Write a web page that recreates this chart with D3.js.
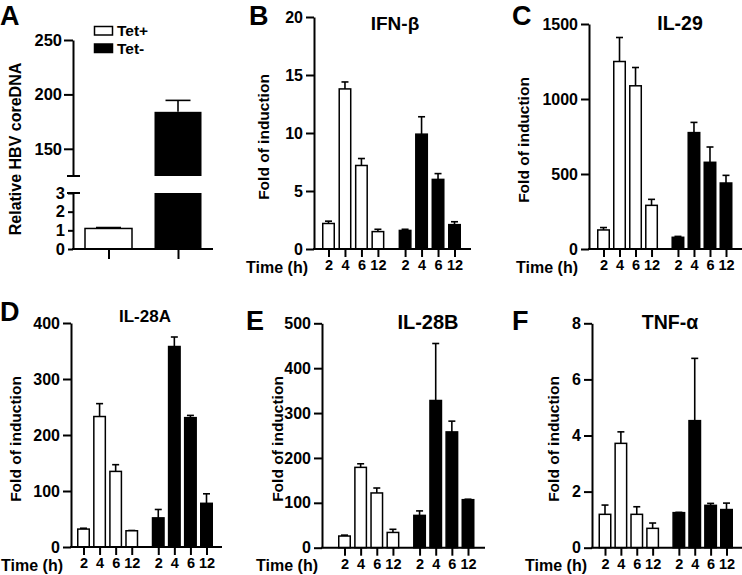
<!DOCTYPE html>
<html><head><meta charset="utf-8">
<script src="https://cdn.jsdelivr.net/npm/d3@7"></script>
<style>
html,body{margin:0;padding:0;background:#fff;}
svg{display:block;font-family:"Liberation Sans",Arial,sans-serif;font-weight:bold;}
</style></head>
<body>
<svg id="chart" width="742" height="575"></svg>
<script>
// ---------- DATA ----------
const groups = ["Tet+", "Tet-"];
const timeLabels = ["2", "4", "6", "12", "2", "4", "6", "12"];

const hbvValues = [1.1, 184];
const hbvErrors = [0.05, 10.5];
const hbvUpperTicks = [150, 200, 250];
const hbvLowerTicks = [0, 1, 2, 3];

const ifnbTetPlus = [2.2, 13.8, 7.2, 1.5];
const ifnbTetPlusErr = [0.2, 0.6, 0.6, 0.2];
const ifnbTetMinus = [1.6, 9.9, 6.0, 2.1];
const ifnbTetMinusErr = [0.1, 1.5, 0.5, 0.25];
const ifnbTicks = [0, 5, 10, 15, 20];

const il29TetPlus = [127, 1250, 1088, 291];
const il29TetPlusErr = [16, 160, 122, 40];
const il29TetMinus = [78, 776, 578, 440];
const il29TetMinusErr = [6, 68, 102, 51];
const il29Ticks = [0, 500, 1000, 1500];

const il28aTetPlus = [32, 233, 135, 29];
const il28aTetPlusErr = [1.5, 23, 12, 0.5];
const il28aTetMinus = [52, 358, 231, 78];
const il28aTetMinusErr = [15, 17, 4, 17];
const il28aTicks = [0, 100, 200, 300, 400];

const il28bTetPlus = [26, 179, 122, 34];
const il28bTetPlusErr = [2, 8, 11, 7];
const il28bTetMinus = [72, 328, 258, 107];
const il28bTetMinusErr = [10, 127, 24, 1];
const il28bTicks = [0, 100, 200, 300, 400, 500];

const tnfTetPlus = [1.19, 3.72, 1.19, 0.69];
const tnfTetPlusErr = [0.33, 0.41, 0.27, 0.19];
const tnfTetMinus = [1.25, 4.53, 1.51, 1.36];
const tnfTetMinusErr = [0.01, 2.22, 0.07, 0.23];
const tnfTicks = [0, 2, 4, 6, 8];

// ---------- DRAW ----------
const svg = d3.select("#chart");
const AXW = 2;
const FONT = '"Liberation Sans",Arial,sans-serif';

function styleAxis(g, fs) {
  g.attr("font-family", null).attr("font-size", null);
  g.selectAll("path.domain").attr("stroke", "#000").attr("stroke-width", AXW);
  g.selectAll(".tick line").attr("stroke", "#000").attr("stroke-width", AXW);
  g.selectAll(".tick text").attr("fill", "#000").style("font-size", fs + "px")
    .style("font-weight", "bold").style("font-family", FONT);
}

function panelLetter(t, x, y) {
  svg.append("text").attr("x", x).attr("y", y).text(t)
    .style("font-family", FONT)
    .style("font-size", "27px").style("font-weight", "bold");
}

function timePanel(cfg) {
  const g = svg.append("g");
  const y = d3.scaleLinear().domain([0, cfg.ticks[cfg.ticks.length - 1]]).range([cfg.y0, cfg.y1]);
  const slots = [0, 1, 2, 3, 4.65, 5.65, 6.65, 7.65];
  const x = d3.scaleLinear().domain([0, 7.65]).range([cfg.xFirst, cfg.xLast]);
  const bw = 11.5, cw = 7;
  const values = cfg.plus.concat(cfg.minus);
  const errs = cfg.plusErr.concat(cfg.minusErr);

  // error bars
  values.forEach((v, i) => {
    const cx = x(slots[i]);
    g.append("line").attr("x1", cx).attr("x2", cx).attr("y1", y(v)).attr("y2", y(v + errs[i]))
      .attr("stroke", "#000").attr("stroke-width", 1.6);
    g.append("line").attr("x1", cx - cw / 2).attr("x2", cx + cw / 2)
      .attr("y1", y(v + errs[i])).attr("y2", y(v + errs[i]))
      .attr("stroke", "#000").attr("stroke-width", 1.6);
  });
  // bars
  g.selectAll("rect.bar").data(values).enter().append("rect")
    .attr("x", (d, i) => x(slots[i]) - bw / 2)
    .attr("width", bw)
    .attr("y", d => y(d))
    .attr("height", d => y(0) - y(d))
    .attr("fill", (d, i) => i < 4 ? "#fff" : "#000")
    .attr("stroke", "#000").attr("stroke-width", 1.5);

  // y axis
  const ya = g.append("g").attr("transform", `translate(${cfg.ax},0)`)
    .call(d3.axisLeft(y).tickValues(cfg.ticks).tickFormat(d3.format("d")).tickSize(8).tickSizeOuter(0).tickPadding(3));
  styleAxis(ya, 16);
  // x axis
  g.append("line").attr("x1", cfg.ax - 1).attr("x2", cfg.xEnd).attr("y1", y(0)).attr("y2", y(0))
    .attr("stroke", "#000").attr("stroke-width", AXW);
  const xa = g.append("g").attr("transform", `translate(0,${y(0)})`)
    .call(d3.axisBottom(x).tickValues(slots).tickFormat((d, i) => timeLabels[i]).tickSize(8).tickPadding(3));
  xa.select("path.domain").remove();
  styleAxis(xa, 14.5);
  g.append("text").attr("x", cfg.timeRight).attr("y", y(0) + 23.5).attr("text-anchor", "end")
    .style("font-size", "16px").text("Time (h)");
  // y label
  g.append("text").attr("transform", `translate(${cfg.labelX},${cfg.labelY}) rotate(-90)`)
    .attr("text-anchor", "middle").attr("dominant-baseline", "central")
    .style("font-size", "15.5px").text("Fold of induction");
  // title
  g.append("text").attr("x", cfg.titleX).attr("y", cfg.titleY).attr("text-anchor", "middle")
    .style("font-size", cfg.titleSize + "px").text(cfg.title);
  panelLetter(cfg.letter, cfg.letterX, cfg.letterY);
}

// ---- Panel A ----
(function () {
  const g = svg.append("g");
  const ax = 73;
  const yU = d3.scaleLinear().domain([125, 250]).range([176, 40]);
  const yL = d3.scaleLinear().domain([0, 3]).range([249, 193]);
  const x = d3.scalePoint().domain(groups).range([108.5, 178]);
  const bw = 47;
  // Tet+ bar (lower part only)
  g.append("line").attr("x1", x("Tet+") - 12.5).attr("x2", x("Tet+") + 12.5)
    .attr("y1", yL(hbvValues[0] + hbvErrors[0])).attr("y2", yL(hbvValues[0] + hbvErrors[0]))
    .attr("stroke", "#000").attr("stroke-width", 1.6);
  g.append("rect").attr("x", x("Tet+") - bw / 2).attr("width", bw)
    .attr("y", yL(hbvValues[0])).attr("height", yL(0) - yL(hbvValues[0]))
    .attr("fill", "#fff").attr("stroke", "#000").attr("stroke-width", 1.5);
  // Tet- bar: lower and upper pieces
  const cx = x("Tet-");
  g.append("line").attr("x1", cx).attr("x2", cx).attr("y1", yU(hbvValues[1])).attr("y2", yU(hbvValues[1] + hbvErrors[1]))
    .attr("stroke", "#000").attr("stroke-width", 1.6);
  g.append("line").attr("x1", cx - 12.5).attr("x2", cx + 12.5)
    .attr("y1", yU(hbvValues[1] + hbvErrors[1])).attr("y2", yU(hbvValues[1] + hbvErrors[1]))
    .attr("stroke", "#000").attr("stroke-width", 1.6);
  g.append("rect").attr("x", cx - bw / 2).attr("width", bw)
    .attr("y", yL(3)).attr("height", yL(0) - yL(3)).attr("fill", "#000");
  g.append("rect").attr("x", cx - bw / 2).attr("width", bw)
    .attr("y", yU(hbvValues[1])).attr("height", yU(125) - yU(hbvValues[1])).attr("fill", "#000");

  // axes
  const ua = g.append("g").attr("transform", `translate(${ax},0)`)
    .call(d3.axisLeft(yU).tickValues(hbvUpperTicks).tickFormat(d3.format("d")).tickSize(9).tickSizeOuter(0).tickPadding(2));
  styleAxis(ua, 16.5);
  const la = g.append("g").attr("transform", `translate(${ax},0)`)
    .call(d3.axisLeft(yL).tickValues(hbvLowerTicks).tickFormat(d3.format("d")).tickSize(5).tickSizeOuter(0).tickPadding(3));
  styleAxis(la, 16.5);
  // break caps
  [yU(125), yL(3)].forEach(v => {
    g.append("line").attr("x1", ax - 6).attr("x2", ax + 7).attr("y1", v).attr("y2", v)
      .attr("stroke", "#000").attr("stroke-width", AXW);
  });
  // x axis
  g.append("line").attr("x1", ax - 1).attr("x2", 213).attr("y1", yL(0)).attr("y2", yL(0))
    .attr("stroke", "#000").attr("stroke-width", AXW);
  const xa = g.append("g").attr("transform", `translate(0,${yL(0)})`)
    .call(d3.axisBottom(x).tickSize(10).tickFormat(""));
  xa.select("path.domain").remove();
  styleAxis(xa, 13);
  // y label
  g.append("text").attr("transform", `translate(15,149) rotate(-90)`)
    .attr("text-anchor", "middle").attr("dominant-baseline", "central")
    .style("font-size", "16px").text("Relative HBV coreDNA");
  // legend
  const leg = g.append("g");
  groups.forEach((k, i) => {
    leg.append("rect").attr("x", 94.5).attr("y", 26.5 + i * 17.5).attr("width", 18).attr("height", 8.5)
      .attr("fill", i === 0 ? "#fff" : "#000").attr("stroke", "#000").attr("stroke-width", 1.5);
    leg.append("text").attr("x", 117).attr("y", 36 + i * 17.5).style("font-size", "15.5px").text(k);
  });
  panelLetter("A", 0, 25);
})();

timePanel({letter: "B", letterX: 249, letterY: 25, title: "IFN-β", titleX: 395, titleY: 30, titleSize: 19,
  plus: ifnbTetPlus, plusErr: ifnbTetPlusErr, minus: ifnbTetMinus, minusErr: ifnbTetMinusErr,
  ticks: ifnbTicks, y0: 249, y1: 17, ax: 314, xFirst: 328.5, xLast: 454.5, xEnd: 471,
  timeRight: 308, labelX: 263, labelY: 137});

timePanel({letter: "C", letterX: 512, letterY: 25, title: "IL-29", titleX: 680, titleY: 30, titleSize: 19.5,
  plus: il29TetPlus, plusErr: il29TetPlusErr, minus: il29TetMinus, minusErr: il29TetMinusErr,
  ticks: il29Ticks, y0: 249, y1: 24, ax: 589, xFirst: 603.5, xLast: 726, xEnd: 742,
  timeRight: 578, labelX: 523, labelY: 140});

timePanel({letter: "D", letterX: 0, letterY: 321, title: "IL-28A", titleX: 145, titleY: 322, titleSize: 17,
  plus: il28aTetPlus, plusErr: il28aTetPlusErr, minus: il28aTetMinus, minusErr: il28aTetMinusErr,
  ticks: il28aTicks, y0: 547, y1: 323, ax: 71, xFirst: 83.5, xLast: 206.5, xEnd: 222,
  timeRight: 63, labelX: 15, labelY: 439});

timePanel({letter: "E", letterX: 246, letterY: 330, title: "IL-28B", titleX: 428, titleY: 329, titleSize: 20,
  plus: il28bTetPlus, plusErr: il28bTetPlusErr, minus: il28bTetMinus, minusErr: il28bTetMinusErr,
  ticks: il28bTicks, y0: 547.7, y1: 323.3, ax: 322, xFirst: 344.5, xLast: 468, xEnd: 485,
  timeRight: 318, labelX: 277, labelY: 439});

timePanel({letter: "F", letterX: 512, letterY: 330, title: "TNF-α", titleX: 670, titleY: 329, titleSize: 19.5,
  plus: tnfTetPlus, plusErr: tnfTetPlusErr, minus: tnfTetMinus, minusErr: tnfTetMinusErr,
  ticks: tnfTicks, y0: 547.7, y1: 323.3, ax: 592, xFirst: 605, xLast: 726.5, xEnd: 742,
  timeRight: 587, labelX: 553, labelY: 439});
</script>
</body></html>
